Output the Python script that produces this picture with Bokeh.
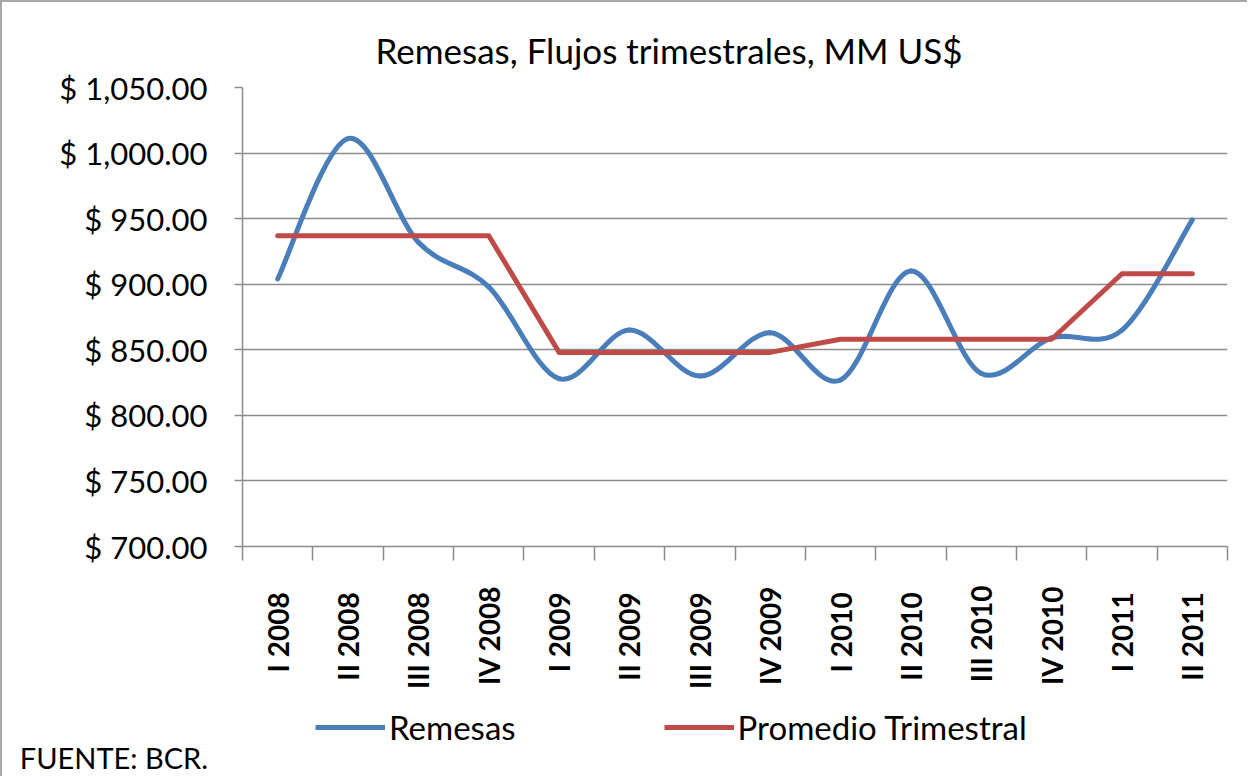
import numpy as np
from bokeh.plotting import figure
from bokeh.layouts import column
from bokeh.models import Range1d, FixedTicker, Legend, LegendItem
from bokeh.embed import file_html
from bokeh.resources import INLINE

# ---------------- data ----------------
quarters = ["I  2008", "II  2008", "III  2008", "IV 2008",
            "I  2009", "II  2009", "III  2009", "IV 2009",
            "I  2010", "II  2010", "III 2010", "IV 2010",
            "I  2011", "II  2011"]
remesas = [904, 1011, 932, 898, 828, 865, 830, 863, 827, 910, 832, 859, 865, 949]
promedio = [937, 937, 937, 937, 848, 848, 848, 848, 858, 858, 858, 858, 908, 908]
y_ticks = [700, 750, 800, 850, 900, 950, 1000, 1050]
y_tick_labels = ["$ 700.00", "$ 750.00", "$ 800.00", "$ 850.00",
                 "$ 900.00", "$ 950.00", "$ 1,000.00", "$ 1,050.00"]
title_text = "Remesas, Flujos trimestrales,  MM US$"
source_text = "FUENTE:  BCR."
series_names = ["Remesas", "Promedio Trimestral"]

FONT = "Lato"
BLUE = "#4A7EBB"
RED = "#BE4B48"
GRID = "#8c8c8c"

BORDER = 2
W = 1245
H_MAIN = 698          # page y 2 .. 700
H_FOOT = 76           # page y 700 .. 776
# frame placement (page px): left 242, right 1227, top 87, bottom 546
FL = 242 - BORDER
FR = 1227 - BORDER
FT = 87 - BORDER
FB = 546 - BORDER

n = len(quarters)
xs = [i + 0.5 for i in range(n)]

p = figure(width=W, height=H_MAIN, output_backend="svg", toolbar_location=None,
           x_range=Range1d(0, n), y_range=Range1d(y_ticks[0], y_ticks[-1]),
           min_border_left=FL, min_border_right=W - FR,
           min_border_top=FT, min_border_bottom=H_MAIN - FB,
           background_fill_color="white", border_fill_color="white")
p.outline_line_color = None

# title (above the frame)
p.title.text = title_text
p.title.align = "left"
p.title.offset = 375 - 242
p.title.standoff = 34
p.title.text_font = FONT
p.title.text_font_size = "35px"
p.title.text_font_style = "normal"
p.title.text_color = "black"

# axes
xa = p.xaxis[0]
xa.ticker = FixedTicker(ticks=xs, minor_ticks=list(range(n + 1)))
xa.major_label_overrides = {x: q for x, q in zip(xs, quarters)}
xa.major_label_orientation = np.pi / 2
xa.major_tick_line_color = None
xa.major_tick_out = 14
xa.major_tick_in = 0
xa.minor_tick_out = 14
xa.minor_tick_in = 0
xa.minor_tick_line_color = GRID
xa.minor_tick_line_width = 1.5
xa.axis_line_color = GRID
xa.axis_line_width = 1.5
xa.major_label_standoff = 25
xa.major_label_text_font = FONT
xa.major_label_text_font_size = "28px"
xa.major_label_text_font_style = "bold"
xa.major_label_text_color = "black"

ya = p.yaxis[0]
ya.ticker = FixedTicker(ticks=y_ticks)
ya.major_label_overrides = {t: l for t, l in zip(y_ticks, y_tick_labels)}
ya.major_tick_out = 8
ya.major_tick_in = 0
ya.minor_tick_line_color = None
ya.major_tick_line_color = GRID
ya.major_tick_line_width = 1.5
ya.axis_line_color = GRID
ya.axis_line_width = 1.5
ya.major_label_standoff = 27
ya.major_label_text_font = FONT
ya.major_label_text_font_size = "31px"
ya.major_label_text_color = "black"

p.xgrid.visible = False
p.ygrid.ticker = FixedTicker(ticks=y_ticks)
p.ygrid.grid_line_color = GRID
p.ygrid.grid_line_width = 1.5

# smoothed Remesas line (cubic Bezier segments through the data points)
pts = np.column_stack([xs, remesas]).astype(float)
x0, y0, x1, y1, cx0, cy0, cx1, cy1 = ([] for _ in range(8))
for i in range(n - 1):
    pa = pts[i - 1] if i > 0 else pts[i]
    p1 = pts[i]
    p2 = pts[i + 1]
    pb = pts[i + 2] if i + 2 < n else pts[i + 1]
    c1 = p1 + (p2 - pa) / 6.0
    c2 = p2 - (pb - p1) / 6.0
    x0.append(p1[0]); y0.append(p1[1]); x1.append(p2[0]); y1.append(p2[1])
    cx0.append(c1[0]); cy0.append(c1[1]); cx1.append(c2[0]); cy1.append(c2[1])

p.bezier(x0=x0, y0=y0, x1=x1, y1=y1, cx0=cx0, cy0=cy0, cx1=cx1, cy1=cy1,
         line_color=BLUE, line_width=5, line_cap="round")
p.line(xs, promedio, line_color=RED, line_width=5, line_join="round",
       line_cap="round")

# ---------------- legend + source strip ----------------
# vertical range flipped so that a data y equals the page pixel row
f = figure(width=W, height=H_FOOT, output_backend="svg", toolbar_location=None,
           x_range=Range1d(0, 1), y_range=Range1d(700 + H_FOOT, 700),
           min_border_left=FL, min_border_right=W - FR,
           min_border_top=0, min_border_bottom=0,
           x_axis_location=None, y_axis_location="left",
           background_fill_color="white", border_fill_color="white")
f.outline_line_color = None
f.grid.visible = False
f.title.visible = False

fa = f.yaxis[0]
fa.ticker = FixedTicker(ticks=[757])
fa.major_label_overrides = {757: source_text}
fa.axis_line_color = None
fa.major_tick_line_color = None
fa.minor_tick_line_color = None
fa.major_tick_out = 0
fa.major_tick_in = 0
fa.major_label_standoff = 242 - 215
fa.major_label_text_font = FONT
fa.major_label_text_font_size = "29px"
fa.major_label_text_color = "black"

# legend sample renderers (kept outside the visible range)
leg_blue = f.line([0, 1], [0, 0], line_color=BLUE, line_width=5)
leg_red = f.line([0, 1], [0, 0], line_color=RED, line_width=5)

legend = Legend(items=[LegendItem(label=series_names[0], renderers=[leg_blue]),
                       LegendItem(label=series_names[1], renderers=[leg_red])],
                orientation="horizontal",
                location=(315 - 242, (700 + H_FOOT) - 747),
                glyph_width=70, glyph_height=30, label_standoff=4,
                spacing=148, padding=0, margin=0,
                border_line_color=None, background_fill_alpha=0,
                label_text_font=FONT, label_text_font_size="33px",
                label_text_color="black")
f.add_layout(legend)

layout = column(p, f, spacing=0,
                styles={"border-left": "2px solid #a8a8a8",
                        "border-top": "2px solid #a8a8a8"})

open("out.html", "w").write(file_html(layout, INLINE))
